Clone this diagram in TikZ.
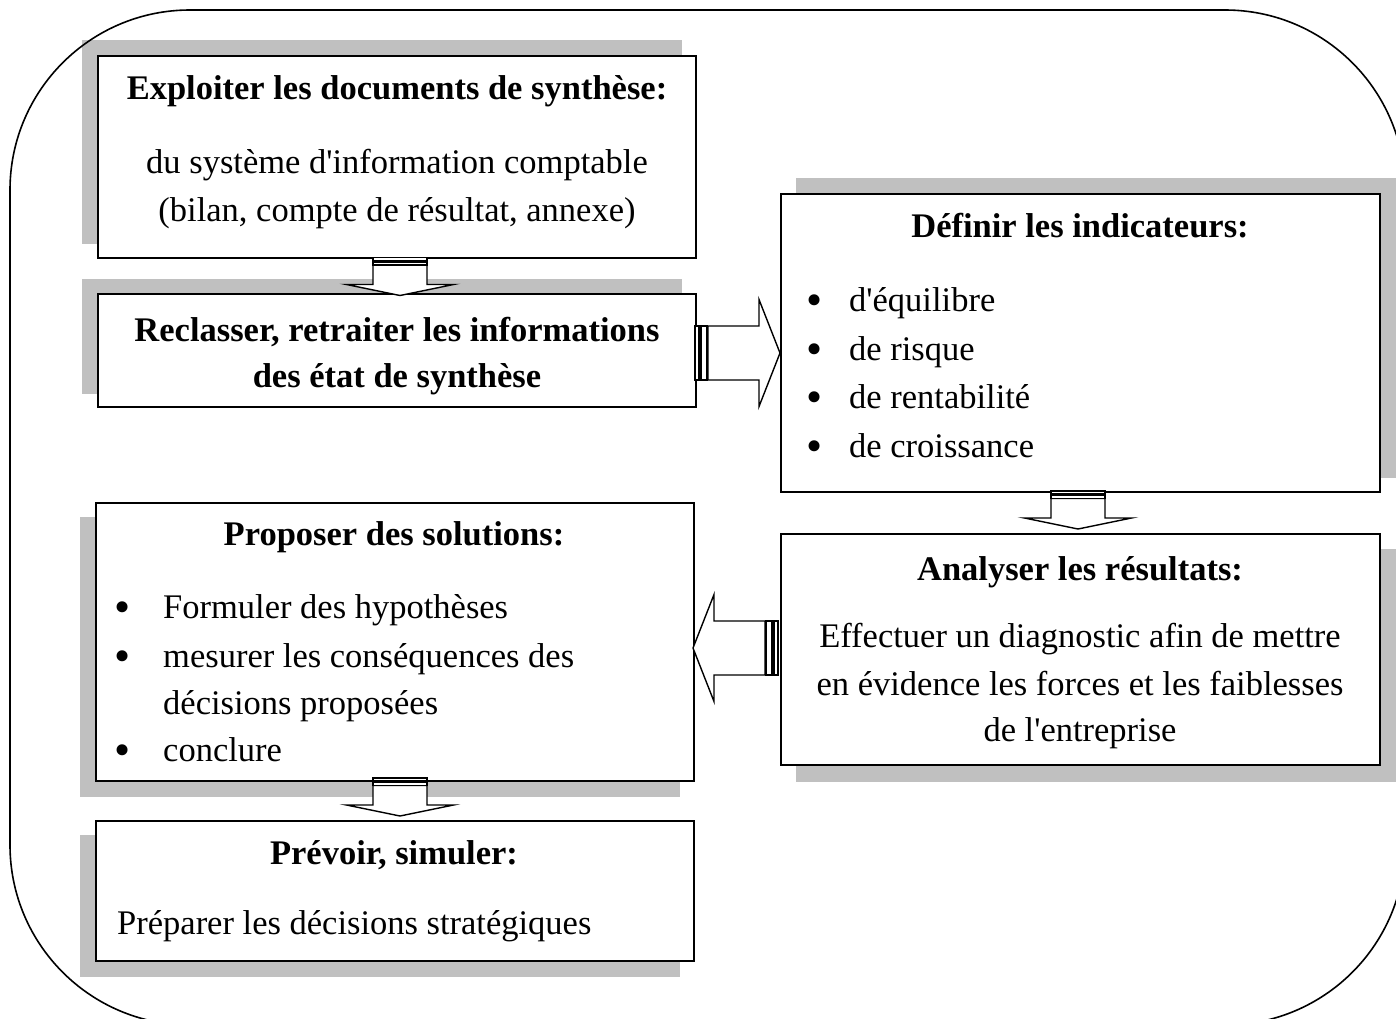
\documentclass[tikz,border=0pt]{standalone}
\usepackage{fontspec}
\setmainfont{Liberation Serif}
\usetikzlibrary{backgrounds}
\definecolor{shadowgray}{HTML}{C0C0C0}
% grey drop shadow behind a box, offset by (#2,#3)
\newcommand\castshadow[3]{%
  \fill[shadowgray] ([shift={(#2,#3)}]#1.north west) rectangle ([shift={(#2,#3)}]#1.south east);}
\begin{document}
\begin{tikzpicture}[x=1pt,y=1pt,
  card/.style={draw, line width=1.8pt, fill=white, inner sep=0pt, anchor=north west},
  txt/.style={font=\fontsize{34.5}{48}\selectfont, inner sep=0pt},
  head/.style={inner sep=0pt, font=\fontsize{34.5}{48}\selectfont\bfseries, anchor=base},
  body/.style={txt, anchor=base},
  item/.style={txt, anchor=base west},
  dot/.style={inner sep=0pt, font=\fontsize{46}{48}\selectfont, anchor=base, yshift=-4pt},
  arrline/.style={draw, line width=1.4pt, fill=white, line join=miter},
  pics/downarr/.style={code={
    \draw[arrline] (-27,-7.5) -- (-27,-27) -- (-53.5,-27) -- (0,-38) -- (53.5,-27) -- (27,-27) -- (27,-7.5) -- cycle;
    \draw[arrline] (-27,0) rectangle (27,-3);
    \draw[arrline] (-27,-4.5) rectangle (27,-7.5);
  }},
  pics/rightarr/.style={code={
    \draw[arrline] (13,27) -- (64,27) -- (64,53.5) -- (85,0) -- (64,-53.5) -- (64,-27) -- (13,-27) -- cycle;
    \draw[arrline] (0,27) rectangle (4,-27);
    \draw[arrline] (6,27) rectangle (12,-27);
  }},
]
\useasboundingbox (0,0) rectangle (1396,-1018);

% outer frame
\draw[line width=1.6pt, rounded corners=180pt] (10,-10) rectangle (1405,-1025);

% boxes
\node[card, minimum width=598pt, minimum height=202pt] (b1) at (97,-55) {};
\node[card, minimum width=598pt, minimum height=113pt] (b2) at (97,-293) {};
\node[card, minimum width=599pt, minimum height=298pt] (b3) at (780,-193) {};
\node[card, minimum width=599pt, minimum height=231pt] (b4) at (780,-533) {};
\node[card, minimum width=598pt, minimum height=278pt] (b5) at (95,-502) {};
\node[card, minimum width=598pt, minimum height=140pt] (b6) at (95,-820) {};

\begin{scope}[on background layer]
  \castshadow{b1}{-15}{15}
  \castshadow{b2}{-15}{14}
  \castshadow{b3}{16}{15}
  \castshadow{b4}{16}{-16}
  \castshadow{b5}{-15}{-15}
  \castshadow{b6}{-15}{-15}
\end{scope}

% box texts
\node[head] (t1) at (397,-99) {Exploiter les documents de synthèse:};
\node[body] (t1a) at (397,-173) {du système d\textquotesingle information comptable};
\node[body] (t1b) at (397,-221) {(bilan, compte de résultat, annexe)};

\node[head] (t2a) at (397,-341) {Reclasser, retraiter les informations};
\node[head] (t2b) at (397,-387) {des état de synthèse};

\node[head] (t3) at (1080,-237) {Définir les indicateurs:};
\node[dot] (d31) at (815,-311) {\textbullet};
\node[item] (i31) at (849,-311) {d\textquotesingle équilibre};
\node[dot] (d32) at (815,-360) {\textbullet};
\node[item] (i32) at (849,-360) {de risque};
\node[dot] (d33) at (815,-408) {\textbullet};
\node[item] (i33) at (849,-408) {de rentabilité};
\node[dot] (d34) at (815,-457) {\textbullet};
\node[item] (i34) at (849,-457) {de croissance};

\node[head] (t4) at (1080,-580) {Analyser les résultats:};
\node[body] (t4a) at (1080,-647) {Effectuer un diagnostic afin de mettre};
\node[body] (t4b) at (1080,-695) {en évidence les forces et les faiblesses};
\node[body] (t4c) at (1080,-741) {de l\textquotesingle entreprise};

\node[head] (t5) at (394,-545) {Proposer des solutions:};
\node[dot] (d51) at (123,-618) {\textbullet};
\node[item] (i51) at (163,-618) {Formuler des hypothèses};
\node[dot] (d52) at (123,-667) {\textbullet};
\node[item] (i52) at (163,-667) {mesurer les conséquences des};
\node[item] (i52b) at (163,-714) {décisions proposées};
\node[dot] (d53) at (123,-761) {\textbullet};
\node[item] (i53) at (163,-761) {conclure};

\node[head] (t6) at (394,-864) {Prévoir, simuler:};
\node[item] (i6) at (117,-934) {Préparer les décisions stratégiques};

% striped block arrows between the steps
\pic at (400,-257.5) {downarr};
\pic at (695,-353) {rightarr};
\pic[xscale=-1] at (778,-648) {rightarr};
\pic at (1078,-491) {downarr};
\pic at (400,-778) {downarr};
\end{tikzpicture}
\end{document}
